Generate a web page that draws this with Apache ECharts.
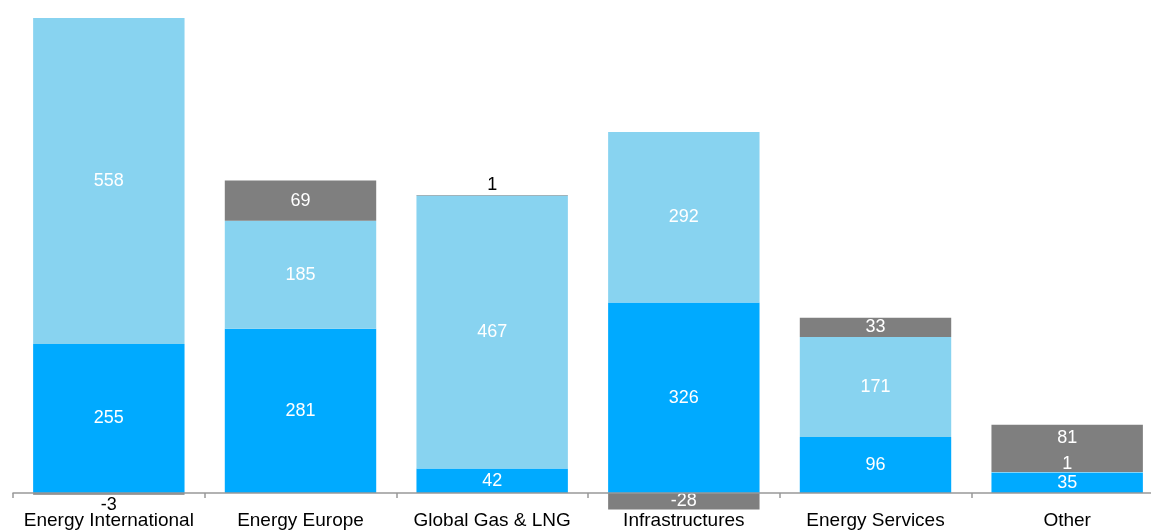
<!DOCTYPE html>
<html>
<head>
<meta charset="utf-8">
<script src="https://cdn.jsdelivr.net/npm/echarts@6/dist/echarts.min.js"></script>
<style>
html,body{margin:0;padding:0;background:#fff;}
#chart{width:1151px;height:531px;}
</style>
</head>
<body>
<div id="chart"></div>
<script>
const categories = ['Energy International', 'Energy Europe', 'Global Gas & LNG', 'Infrastructures', 'Energy Services', 'Other'];
const bottomValues = [255, 281, 42, 326, 96, 35];
const middleValues = [558, 185, 467, 292, 171, 1];
const topValues = [-3, 69, 1, -28, 33, 81];

const chart = echarts.init(document.getElementById('chart'));
const font = 'Liberation Sans, Arial, sans-serif';

function baseLabel() {
  return { show: true, position: 'inside', color: '#ffffff', fontSize: 18, fontFamily: font };
}

const bottomData = bottomValues.map(v => ({ value: v }));
const middleData = middleValues.map((v, i) => {
  const d = { value: v };
  if (Math.abs(v) < 5) {
    d.label = { position: 'top', distance: -1, color: '#ffffff' };
  }
  return d;
});
const topData = topValues.map((v, i) => {
  const d = { value: v };
  if (Math.abs(v) < 5) {
    d.label = { position: v < 0 ? 'bottom' : 'top', distance: 1, color: '#000000' };
  }
  if (middleValues[i] < 5) {
    d.label = { offset: [0, -10] };
  }
  return d;
});

const yMin = -40, yMax = 820, gridTop = 13.9, gridHeight = 502.5;
const zeroOffset = -gridHeight * (0 - yMin) / (yMax - yMin);

const option = {
  animation: false,
  grid: { left: 13, width: 1150, top: gridTop, height: gridHeight, containLabel: false, outerBoundsMode: 'none' },
  xAxis: {
    type: 'category',
    data: categories,
    offset: zeroOffset,
    axisLine: { show: true, onZero: false, lineStyle: { color: '#999999', width: 1.5 } },
    axisTick: { show: true, length: 5, lineStyle: { color: '#999999', width: 1.5 } },
    axisLabel: { show: true, color: '#000000', fontSize: 19, fontFamily: font, margin: 18, interval: 0, hideOverlap: false },
    z: 10
  },
  yAxis: {
    type: 'value',
    min: yMin,
    max: yMax,
    show: false,
    splitLine: { show: false }
  },
  series: [
    { name: 'Bottom', type: 'bar', stack: 'total', barWidth: '79%', data: bottomData,
      itemStyle: { color: '#00AAFF' }, label: baseLabel() },
    { name: 'Middle', type: 'bar', stack: 'total', data: middleData,
      itemStyle: { color: '#88D3F0' }, label: baseLabel() },
    { name: 'Top', type: 'bar', stack: 'total', data: topData,
      itemStyle: { color: '#7F7F7F' }, label: baseLabel() }
  ]
};
chart.setOption(option);
</script>
</body>
</html>
